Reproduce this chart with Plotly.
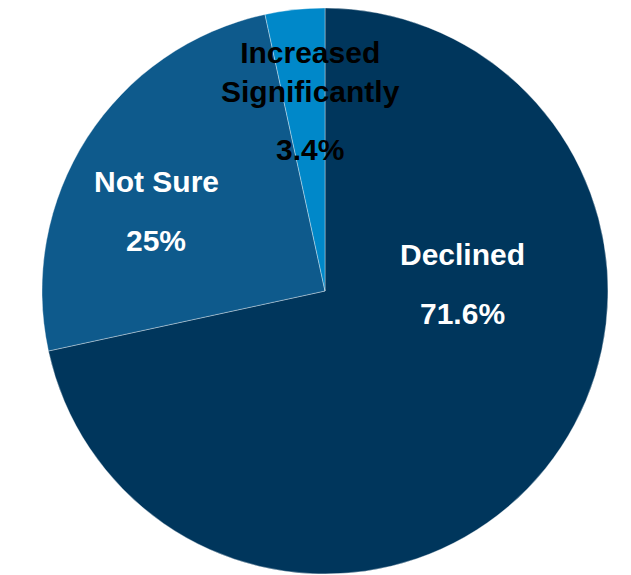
import plotly.graph_objects as go

labels = ["Declined", "Not Sure", "Increased<br>Significantly"]
values = [71.6, 25, 3.4]
pct_text = ["71.6%", "25%", "3.4%"]
colors = ["#00365C", "#0E5A8C", "#0088C9"]
text_colors = ["white", "white", "black"]

W, H = 631, 575
OFF = 8  # page body margin offset
cx, cy, r = 325 - OFF, 291 - OFF, 283

fig = go.Figure(go.Pie(
    labels=labels,
    values=values,
    sort=False,
    direction="clockwise",
    rotation=0,
    marker=dict(colors=colors, line=dict(color="rgba(255,255,255,0.6)", width=0.6)),
    textinfo="none",
    hoverinfo="label+percent",
    showlegend=False,
    domain=dict(x=[(cx - r) / W, (cx + r) / W], y=[1 - (cy + r) / H, 1 - (cy - r) / H]),
))

# label anchor positions (screen pixels) for name and percentage text
name_pos = [(462, 255), (156, 182), (310, 72)]
pct_pos = [(462, 313), (156, 240), (310, 150)]

font_family = "Liberation Sans, Arial, sans-serif"
fs = 30
for i in range(len(labels)):
    nx, ny = name_pos[i]
    px, py = pct_pos[i]
    fig.add_annotation(x=(nx - OFF) / W, y=1 - (ny - OFF) / H, xref="paper", yref="paper",
                       text="<b>%s</b>" % labels[i], showarrow=False,
                       font=dict(family=font_family, size=fs, color=text_colors[i]),
                       xanchor="center", yanchor="middle")
    fig.add_annotation(x=(px - OFF) / W, y=1 - (py - OFF) / H, xref="paper", yref="paper",
                       text="<b>%s</b>" % pct_text[i], showarrow=False,
                       font=dict(family=font_family, size=fs, color=text_colors[i]),
                       xanchor="center", yanchor="middle")

fig.update_layout(width=W, height=H, margin=dict(l=0, r=0, t=0, b=0),
                  paper_bgcolor="white", plot_bgcolor="white")

fig.write_html("out.html")
